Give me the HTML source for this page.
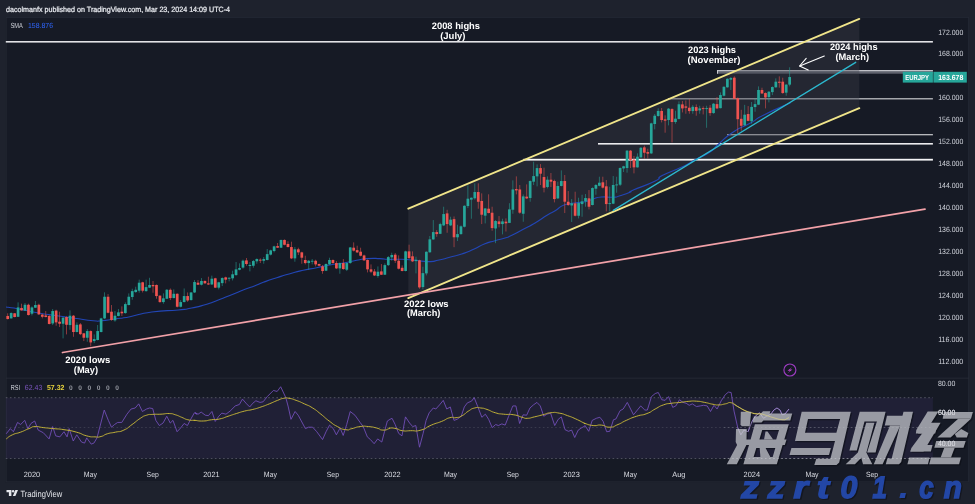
<!DOCTYPE html>
<html><head><meta charset="utf-8"><title>EUR/JPY chart</title>
<style>html,body{margin:0;padding:0;background:#1e222d}body{width:975px;height:504px;overflow:hidden}svg{display:block;text-rendering:geometricPrecision;will-change:transform;transform:translateZ(0)}text{font-family:"Liberation Sans",sans-serif}</style></head><body>
<svg width="975" height="504" viewBox="0 0 975 504">
<rect width="975" height="504" fill="#1e222d"/>
<rect x="5.8" y="17" width="963.2" height="465.2" fill="#161a25"/>
<rect x="6.2" y="17.4" width="962.4" height="464.4" fill="none" stroke="#2a2e39" stroke-width="0.8" opacity="0.75"/>
<rect x="5.8" y="377.7" width="963.2" height="0.9" fill="#2a2e39" opacity="0.8"/>
<text x="6" y="11.6" font-size="7.6" fill="#eceef3" stroke="#eceef3" stroke-width="0.22" textLength="224" lengthAdjust="spacingAndGlyphs">dacolmanfx published on TradingView.com, Mar 23, 2024 14:09 UTC-4</text>
<rect x="668" y="98.2" width="264.9" height="1.2" fill="#c9cace"/>
<rect x="727" y="134.1" width="205.9" height="1.2" fill="#c9cace"/>
<rect x="717" y="70.1" width="215.9" height="3.6" fill="#60636e"/>
<rect x="717" y="70.1" width="215.9" height="1.1" fill="#cccdd2"/>
<rect x="717" y="70.1" width="1" height="3.6" fill="#cccdd2"/>
<polygon points="408.3,208.7 859.3,18.9 859.3,108.1 408.3,298.1" fill="#3c3f4a" fill-opacity="0.36"/>
<rect x="5.8" y="41" width="927.1" height="1.6" fill="#e2e2e6"/>
<rect x="598" y="143" width="334.9" height="1.6" fill="#ececef"/>
<rect x="523.3" y="158.8" width="409.6" height="1.8" fill="#f4f4f6"/>
<path d="M6 307 C9.77 307.57 6.4 306.7 17.3 308.7 C28.2 310.7 24.9 310.57 38.7 313 C52.5 315.43 46.7 314.23 58.7 316 C70.7 317.77 63.17 316.73 74.7 318.3 C86.23 319.87 84.43 319.9 93.3 320.7 C102.17 321.5 94.17 321.27 101.3 320.7 C108.43 320.13 105.13 320.33 114.7 319 C124.27 317.67 117.67 319.03 130 316.7 C142.33 314.37 135.6 314.23 151.7 312 C167.8 309.77 164.97 311.33 178.3 310 C191.63 308.67 182.8 309.77 191.7 308 C200.6 306.23 196.13 307.37 205 304.7 C213.87 302.03 209.4 303.33 218.3 300 C227.2 296.67 222.8 298.27 231.7 294.7 C240.6 291.13 237.23 292.3 245 289.3 C252.77 286.3 248.9 288.03 255 285.7 C261.1 283.37 256.07 284.97 263.3 282.3 C270.53 279.63 267.8 280.57 276.7 277.7 C285.6 274.83 281.13 276.17 290 273.7 C298.87 271.23 294.4 272.3 303.3 270.3 C312.2 268.3 307.8 269.47 316.7 267.7 C325.6 265.93 321.13 266.57 330 265 C338.87 263.43 334.4 264.57 343.3 263 C352.2 261.43 348.7 261.77 356.7 260.3 C364.7 258.83 359.53 259.17 367.3 258.6 C375.07 258.03 373 258.37 380 258.6 C387 258.83 381.07 259.07 388.3 259.3 C395.53 259.53 392.8 258.97 401.7 259.3 C410.6 259.63 406.13 259.53 415 260.3 C423.87 261.07 420.3 261.7 428.3 261.6 C436.3 261.5 431.87 261.43 439 260 C446.13 258.57 442.13 259.3 449.7 257.3 C457.27 255.3 453.7 256.67 461.7 254 C469.7 251.33 466.17 252.63 473.7 249.3 C481.23 245.97 477.2 246.87 484.3 244 C491.4 241.13 488.1 242.7 495 240.7 C501.9 238.7 499.57 239.7 505 238 C510.43 236.3 505.37 238.43 511.3 235.6 C517.23 232.77 514.87 233.73 522.8 229.5 C530.73 225.27 526.9 227.7 535.1 222.9 C543.3 218.1 540.57 219.2 547.4 215.1 C554.23 211 550.07 213.97 555.6 210.6 C561.13 207.23 557.63 207.53 564 205 C570.37 202.47 567.6 204.1 574.7 203 C581.8 201.9 579.1 203.03 585.3 201.7 C591.5 200.37 587.97 200.57 593.3 199 C598.63 197.43 594.63 197.6 601.3 197 C607.97 196.4 607.07 197.63 613.3 197.2 C619.53 196.77 614.43 197.33 620 195.7 C625.57 194.07 625.57 194.2 630 192.3 C634.43 190.4 625.07 193.67 633.3 190 C641.53 186.33 644.9 186.2 654.7 181.3 C664.5 176.4 653.83 179.97 662.7 175.3 C671.57 170.63 670.2 172.63 681.3 167.3 C692.4 161.97 686.43 164.4 696 159.3 C705.57 154.2 702.43 157.1 710 152 C717.57 146.9 710.93 150.67 718.7 144 C726.47 137.33 722.87 138.9 733.3 132 C743.73 125.1 739.63 129.07 750 123.3 C760.37 117.53 750.87 121.53 764.4 114.7 C777.93 107.87 781.87 106.77 790.6 102.8" fill="none" stroke="#2246b6" stroke-width="1.15" stroke-linejoin="round"/>
<g fill="#26a69a"><rect x="10.71" y="312.37" width="0.9" height="6.28" opacity="0.6"/><rect x="9.81" y="313.04" width="2.7" height="5.34"/><rect x="17.63" y="302.36" width="0.9" height="14.69" opacity="0.6"/><rect x="16.73" y="307.43" width="2.7" height="9.35"/><rect x="24.55" y="303.02" width="0.9" height="8.01" opacity="0.6"/><rect x="23.65" y="304.76" width="2.7" height="5.87"/><rect x="31.47" y="306.36" width="0.9" height="9.08" opacity="0.6"/><rect x="30.57" y="307.43" width="2.7" height="6.28"/><rect x="34.93" y="301.02" width="0.9" height="6.94" opacity="0.6"/><rect x="34.03" y="305.03" width="2.7" height="2.67"/><rect x="52.23" y="309.03" width="0.9" height="16.02" opacity="0.6"/><rect x="51.33" y="311.03" width="2.7" height="12.42"/><rect x="62.61" y="317.04" width="0.9" height="21.36" opacity="0.6"/><rect x="61.71" y="317.71" width="2.7" height="6.01"/><rect x="69.53" y="310.37" width="0.9" height="19.36" opacity="0.6"/><rect x="68.63" y="315.71" width="2.7" height="9.35"/><rect x="76.45" y="322.38" width="0.9" height="10.01" opacity="0.6"/><rect x="75.55" y="324.79" width="2.7" height="7.21"/><rect x="86.83" y="329.06" width="0.9" height="12.68" opacity="0.6"/><rect x="85.93" y="331.06" width="2.7" height="6.68"/><rect x="93.75" y="334.4" width="0.9" height="8.68" opacity="0.6"/><rect x="92.85" y="339.07" width="2.7" height="2"/><rect x="97.21" y="325.05" width="0.9" height="15.35" opacity="0.6"/><rect x="96.31" y="331.06" width="2.7" height="8.95"/><rect x="100.67" y="317.71" width="0.9" height="14.69" opacity="0.6"/><rect x="99.77" y="318.38" width="2.7" height="13.62"/><rect x="104.13" y="292.34" width="0.9" height="26.7" opacity="0.6"/><rect x="103.23" y="296.75" width="2.7" height="21.63"/><rect x="114.51" y="311.03" width="0.9" height="10.68" opacity="0.6"/><rect x="113.61" y="315.71" width="2.7" height="4.67"/><rect x="117.97" y="309.03" width="0.9" height="7.34" opacity="0.6"/><rect x="117.07" y="312.37" width="2.7" height="3.6"/><rect x="124.89" y="302.36" width="0.9" height="11.35" opacity="0.6"/><rect x="123.99" y="304.09" width="2.7" height="8.95"/><rect x="128.35" y="293.39" width="0.9" height="12.02" opacity="0.6"/><rect x="127.45" y="296.73" width="2.7" height="8.28"/><rect x="131.81" y="288.72" width="0.9" height="10.95" opacity="0.6"/><rect x="130.91" y="291.12" width="2.7" height="5.87"/><rect x="135.27" y="286.72" width="0.9" height="6.01" opacity="0.6"/><rect x="134.37" y="289.79" width="2.7" height="2.27"/><rect x="138.73" y="279.64" width="0.9" height="13.08" opacity="0.6"/><rect x="137.83" y="282.71" width="2.7" height="8.01"/><rect x="145.65" y="279.64" width="0.9" height="12.02" opacity="0.6"/><rect x="144.75" y="287.12" width="2.7" height="4.01"/><rect x="149.11" y="277.77" width="0.9" height="10.28" opacity="0.6"/><rect x="148.21" y="284.98" width="2.7" height="2.67"/><rect x="162.95" y="293.39" width="0.9" height="10.28" opacity="0.6"/><rect x="162.05" y="298.33" width="2.7" height="3.74"/><rect x="166.41" y="288.99" width="0.9" height="10.15" opacity="0.6"/><rect x="165.51" y="289.79" width="2.7" height="8.95"/><rect x="173.33" y="289.39" width="0.9" height="8.95" opacity="0.6"/><rect x="172.43" y="293.79" width="2.7" height="4.27"/><rect x="180.25" y="300.07" width="0.9" height="7.34" opacity="0.6"/><rect x="179.35" y="302.07" width="2.7" height="4.67"/><rect x="183.71" y="288.45" width="0.9" height="13.89" opacity="0.6"/><rect x="182.81" y="296.06" width="2.7" height="6.01"/><rect x="190.63" y="292.06" width="0.9" height="8.41" opacity="0.6"/><rect x="189.73" y="292.46" width="2.7" height="7.61"/><rect x="194.09" y="280.04" width="0.9" height="12.95" opacity="0.6"/><rect x="193.19" y="282.04" width="2.7" height="10.41"/><rect x="201.01" y="278.04" width="0.9" height="7.34" opacity="0.6"/><rect x="200.11" y="280.97" width="2.7" height="3.74"/><rect x="211.39" y="275.63" width="0.9" height="9.35" opacity="0.6"/><rect x="210.49" y="278.7" width="2.7" height="5.74"/><rect x="218.31" y="281.78" width="0.9" height="7.61" opacity="0.6"/><rect x="217.41" y="282.31" width="2.7" height="5.34"/><rect x="221.77" y="277.37" width="0.9" height="8.68" opacity="0.6"/><rect x="220.87" y="278.04" width="2.7" height="5.07"/><rect x="228.69" y="277.37" width="0.9" height="4.01" opacity="0.6"/><rect x="227.79" y="277.77" width="2.7" height="0.93"/><rect x="232.15" y="270.69" width="0.9" height="9.75" opacity="0.6"/><rect x="231.25" y="274.3" width="2.7" height="4.01"/><rect x="235.61" y="262.02" width="0.9" height="13.62" opacity="0.6"/><rect x="234.71" y="269.36" width="2.7" height="5.74"/><rect x="239.07" y="263.35" width="0.9" height="6.94" opacity="0.6"/><rect x="238.17" y="268.02" width="2.7" height="1.74"/><rect x="242.53" y="259.61" width="0.9" height="9.08" opacity="0.6"/><rect x="241.63" y="260.68" width="2.7" height="6.94"/><rect x="249.45" y="262.02" width="0.9" height="9.35" opacity="0.6"/><rect x="248.55" y="264.95" width="2.7" height="1.07"/><rect x="252.91" y="259.98" width="0.9" height="7.74" opacity="0.6"/><rect x="252.01" y="261.05" width="2.7" height="4.67"/><rect x="256.37" y="258.38" width="0.9" height="5.34" opacity="0.6"/><rect x="255.47" y="259.05" width="2.7" height="2.27"/><rect x="263.29" y="257.04" width="0.9" height="6.68" opacity="0.6"/><rect x="262.39" y="259.05" width="2.7" height="1.74"/><rect x="266.75" y="249.03" width="0.9" height="11.35" opacity="0.6"/><rect x="265.85" y="254.11" width="2.7" height="5.87"/><rect x="270.21" y="249.7" width="0.9" height="5.74" opacity="0.6"/><rect x="269.31" y="250.37" width="2.7" height="4.27"/><rect x="273.67" y="245.69" width="0.9" height="6.68" opacity="0.6"/><rect x="272.77" y="246.36" width="2.7" height="4.67"/><rect x="280.59" y="239.69" width="0.9" height="8.28" opacity="0.6"/><rect x="279.69" y="239.95" width="2.7" height="7.74"/><rect x="294.43" y="247.03" width="0.9" height="14.69" opacity="0.6"/><rect x="293.53" y="249.3" width="2.7" height="9.08"/><rect x="308.27" y="259.98" width="0.9" height="9.75" opacity="0.6"/><rect x="307.37" y="260.78" width="2.7" height="2.27"/><rect x="311.73" y="259.05" width="0.9" height="5.34" opacity="0.6"/><rect x="310.83" y="260.78" width="2.7" height="0.9"/><rect x="325.57" y="263.45" width="0.9" height="7.61" opacity="0.6"/><rect x="324.67" y="263.99" width="2.7" height="6.68"/><rect x="329.03" y="257.71" width="0.9" height="7.08" opacity="0.6"/><rect x="328.13" y="259.98" width="2.7" height="4.41"/><rect x="339.41" y="262.38" width="0.9" height="11.35" opacity="0.6"/><rect x="338.51" y="263.05" width="2.7" height="5.34"/><rect x="346.33" y="262.38" width="0.9" height="8.68" opacity="0.6"/><rect x="345.43" y="263.05" width="2.7" height="6.68"/><rect x="349.79" y="247.03" width="0.9" height="16.69" opacity="0.6"/><rect x="348.89" y="247.43" width="2.7" height="15.62"/><rect x="377.47" y="266.39" width="0.9" height="11.35" opacity="0.6"/><rect x="376.57" y="271.73" width="2.7" height="4.27"/><rect x="384.39" y="263.38" width="0.9" height="11.62" opacity="0.6"/><rect x="383.49" y="265.11" width="2.7" height="9.61"/><rect x="387.85" y="256.03" width="0.9" height="10.01" opacity="0.6"/><rect x="386.95" y="257.1" width="2.7" height="8.01"/><rect x="391.31" y="252.69" width="0.9" height="8.01" opacity="0.6"/><rect x="390.41" y="254.96" width="2.7" height="2.4"/><rect x="405.15" y="250.69" width="0.9" height="20.69" opacity="0.6"/><rect x="404.25" y="251.36" width="2.7" height="19.63"/><rect x="415.53" y="256.7" width="0.9" height="16.69" opacity="0.6"/><rect x="414.63" y="259.77" width="2.7" height="1.34"/><rect x="422.45" y="266.71" width="0.9" height="22.7" opacity="0.6"/><rect x="421.55" y="273.12" width="2.7" height="13.89"/><rect x="425.91" y="251.36" width="0.9" height="24.03" opacity="0.6"/><rect x="425.01" y="251.76" width="2.7" height="21.63"/><rect x="429.37" y="236.01" width="0.9" height="16.69" opacity="0.6"/><rect x="428.47" y="239.34" width="2.7" height="12.95"/><rect x="432.83" y="220.07" width="0.9" height="19.63" opacity="0.6"/><rect x="431.93" y="232.08" width="2.7" height="7.34"/><rect x="439.75" y="222.74" width="0.9" height="11.35" opacity="0.6"/><rect x="438.85" y="224.07" width="2.7" height="9.75"/><rect x="443.21" y="206.72" width="0.9" height="19.36" opacity="0.6"/><rect x="442.31" y="214.06" width="2.7" height="11.35"/><rect x="450.13" y="216.73" width="0.9" height="9.35" opacity="0.6"/><rect x="449.23" y="219.67" width="2.7" height="5.74"/><rect x="457.05" y="224.74" width="0.9" height="16.29" opacity="0.6"/><rect x="456.15" y="234.09" width="2.7" height="3.2"/><rect x="460.51" y="225.41" width="0.9" height="9.35" opacity="0.6"/><rect x="459.61" y="226.34" width="2.7" height="7.74"/><rect x="463.97" y="205.38" width="0.9" height="22.03" opacity="0.6"/><rect x="463.07" y="205.78" width="2.7" height="20.96"/><rect x="467.43" y="185.35" width="0.9" height="22.7" opacity="0.6"/><rect x="466.53" y="198.7" width="2.7" height="7.34"/><rect x="470.89" y="197.37" width="0.9" height="21.36" opacity="0.6"/><rect x="469.99" y="197.77" width="2.7" height="1.87"/><rect x="474.35" y="183.35" width="0.9" height="16.29" opacity="0.6"/><rect x="473.45" y="192.03" width="2.7" height="6.28"/><rect x="484.73" y="208.05" width="0.9" height="15.35" opacity="0.6"/><rect x="483.83" y="208.45" width="2.7" height="7.21"/><rect x="495.11" y="220.07" width="0.9" height="23.1" opacity="0.6"/><rect x="494.21" y="221" width="2.7" height="7.48"/><rect x="502.03" y="218.73" width="0.9" height="15.62" opacity="0.6"/><rect x="501.13" y="221.4" width="2.7" height="2.67"/><rect x="508.95" y="203.2" width="0.9" height="19.85" opacity="0.6"/><rect x="508.05" y="209.36" width="2.7" height="13.54"/><rect x="512.41" y="180.37" width="0.9" height="33.38" opacity="0.6"/><rect x="511.51" y="189.45" width="2.7" height="20.29"/><rect x="522.79" y="194.39" width="0.9" height="27.37" opacity="0.6"/><rect x="521.89" y="196.39" width="2.7" height="17.36"/><rect x="529.71" y="180.37" width="0.9" height="21.36" opacity="0.6"/><rect x="528.81" y="181.03" width="2.7" height="16.96"/><rect x="533.17" y="161.68" width="0.9" height="23.36" opacity="0.6"/><rect x="532.27" y="176.09" width="2.7" height="5.61"/><rect x="536.63" y="164.35" width="0.9" height="22.03" opacity="0.6"/><rect x="535.73" y="168.08" width="2.7" height="8.28"/><rect x="547.01" y="176.36" width="0.9" height="12.02" opacity="0.6"/><rect x="546.11" y="179.7" width="2.7" height="7.34"/><rect x="557.39" y="181.7" width="0.9" height="17.36" opacity="0.6"/><rect x="556.49" y="185.97" width="2.7" height="12.42"/><rect x="560.85" y="170.35" width="0.9" height="16.02" opacity="0.6"/><rect x="559.95" y="181.03" width="2.7" height="4.94"/><rect x="571.23" y="199.06" width="0.9" height="22.96" opacity="0.6"/><rect x="570.33" y="203.33" width="2.7" height="2.14"/><rect x="578.15" y="197.72" width="0.9" height="20.69" opacity="0.6"/><rect x="577.25" y="203.06" width="2.7" height="12.68"/><rect x="581.61" y="194.73" width="0.9" height="22.03" opacity="0.6"/><rect x="580.71" y="201.4" width="2.7" height="2.67"/><rect x="585.07" y="194.06" width="0.9" height="12.68" opacity="0.6"/><rect x="584.17" y="198.06" width="2.7" height="3.34"/><rect x="591.99" y="187.38" width="0.9" height="18.02" opacity="0.6"/><rect x="591.09" y="188.05" width="2.7" height="16.96"/><rect x="595.45" y="184.05" width="0.9" height="10.68" opacity="0.6"/><rect x="594.55" y="184.98" width="2.7" height="3.74"/><rect x="598.91" y="176.7" width="0.9" height="9.61" opacity="0.6"/><rect x="598.01" y="182.71" width="2.7" height="3.07"/><rect x="609.29" y="186.72" width="0.9" height="24.7" opacity="0.6"/><rect x="608.39" y="203.14" width="2.7" height="0.93"/><rect x="612.75" y="176.03" width="0.9" height="28.04" opacity="0.6"/><rect x="611.85" y="184.98" width="2.7" height="18.69"/><rect x="616.21" y="176.7" width="0.9" height="16.02" opacity="0.6"/><rect x="615.31" y="184.45" width="2.7" height="0.93"/><rect x="619.67" y="167.36" width="0.9" height="18.69" opacity="0.6"/><rect x="618.77" y="168.02" width="2.7" height="16.69"/><rect x="623.13" y="165.75" width="0.9" height="6.28" opacity="0.6"/><rect x="622.23" y="166.29" width="2.7" height="2.14"/><rect x="626.59" y="150" width="0.9" height="22.7" opacity="0.6"/><rect x="625.69" y="150.67" width="2.7" height="17.36"/><rect x="636.97" y="153.34" width="0.9" height="14.29" opacity="0.6"/><rect x="636.07" y="156.68" width="2.7" height="10.68"/><rect x="640.43" y="147" width="0.9" height="10.68" opacity="0.6"/><rect x="639.53" y="147.8" width="2.7" height="9.61"/><rect x="650.81" y="122.7" width="0.9" height="31.38" opacity="0.6"/><rect x="649.91" y="123.36" width="2.7" height="30.04"/><rect x="654.27" y="114.02" width="0.9" height="15.35" opacity="0.6"/><rect x="653.37" y="115.75" width="2.7" height="8.28"/><rect x="657.73" y="108.28" width="0.9" height="8.41" opacity="0.6"/><rect x="656.83" y="110.95" width="2.7" height="5.07"/><rect x="668.11" y="108.01" width="0.9" height="17.36" opacity="0.6"/><rect x="667.21" y="108.68" width="2.7" height="11.35"/><rect x="675.03" y="110.68" width="0.9" height="13.08" opacity="0.6"/><rect x="674.13" y="118.69" width="2.7" height="3.34"/><rect x="678.49" y="101.34" width="0.9" height="18.02" opacity="0.6"/><rect x="677.59" y="104.27" width="2.7" height="14.69"/><rect x="692.33" y="105.07" width="0.9" height="8.68" opacity="0.6"/><rect x="691.43" y="106.8" width="2.7" height="4.27"/><rect x="699.25" y="105.73" width="0.9" height="8.01" opacity="0.6"/><rect x="698.35" y="108.4" width="2.7" height="2"/><rect x="706.17" y="105.73" width="0.9" height="22.03" opacity="0.6"/><rect x="705.27" y="108.14" width="2.7" height="0.93"/><rect x="713.09" y="103.06" width="0.9" height="10.68" opacity="0.6"/><rect x="712.19" y="103.73" width="2.7" height="9.35"/><rect x="720.01" y="92.38" width="0.9" height="16.02" opacity="0.6"/><rect x="719.11" y="95.05" width="2.7" height="13.08"/><rect x="723.47" y="86.38" width="0.9" height="10.01" opacity="0.6"/><rect x="722.57" y="86.78" width="2.7" height="8.95"/><rect x="726.93" y="78.36" width="0.9" height="9.35" opacity="0.6"/><rect x="726.03" y="78.77" width="2.7" height="8.54"/><rect x="730.39" y="77.03" width="0.9" height="12.95" opacity="0.6"/><rect x="729.49" y="77.96" width="2.7" height="1.74"/><rect x="744.23" y="104.84" width="0.9" height="20.92" opacity="0.6"/><rect x="743.33" y="114.69" width="2.7" height="10.66"/><rect x="751.15" y="101.97" width="0.9" height="21.74" opacity="0.6"/><rect x="750.25" y="106.89" width="2.7" height="14.36"/><rect x="754.61" y="98.39" width="0.9" height="13.35" opacity="0.6"/><rect x="753.71" y="104.13" width="2.7" height="2.94"/><rect x="758.07" y="86.38" width="0.9" height="18.69" opacity="0.6"/><rect x="757.17" y="89.98" width="2.7" height="14.69"/><rect x="768.45" y="91.05" width="0.9" height="11.35" opacity="0.6"/><rect x="767.55" y="91.72" width="2.7" height="5.34"/><rect x="771.91" y="86.38" width="0.9" height="8.68" opacity="0.6"/><rect x="771.01" y="87.04" width="2.7" height="5.07"/><rect x="775.37" y="78.36" width="0.9" height="9.35" opacity="0.6"/><rect x="774.47" y="81.7" width="2.7" height="5.61"/><rect x="785.75" y="84.11" width="0.9" height="11.62" opacity="0.6"/><rect x="784.85" y="84.64" width="2.7" height="8.01"/><rect x="789.21" y="67.28" width="0.9" height="19.09" opacity="0.6"/><rect x="788.31" y="77.03" width="2.7" height="7.61"/></g>
<g fill="#ef5350"><rect x="7.25" y="313.3" width="0.9" height="6.14" opacity="0.6"/><rect x="6.35" y="315.97" width="2.7" height="3.07"/><rect x="14.17" y="313.04" width="0.9" height="4.27" opacity="0.6"/><rect x="13.27" y="313.3" width="2.7" height="3.74"/><rect x="21.09" y="303.69" width="0.9" height="6.94" opacity="0.6"/><rect x="20.19" y="307.96" width="2.7" height="2.4"/><rect x="28.01" y="303.69" width="0.9" height="11.75" opacity="0.6"/><rect x="27.11" y="304.76" width="2.7" height="10.28"/><rect x="38.39" y="303.69" width="0.9" height="11.35" opacity="0.6"/><rect x="37.49" y="304.76" width="2.7" height="9.61"/><rect x="41.85" y="313.7" width="0.9" height="4.67" opacity="0.6"/><rect x="40.95" y="314.64" width="2.7" height="2.14"/><rect x="45.31" y="311.03" width="0.9" height="6.28" opacity="0.6"/><rect x="44.41" y="315.44" width="2.7" height="1.6"/><rect x="48.77" y="315.04" width="0.9" height="9.35" opacity="0.6"/><rect x="47.87" y="315.97" width="2.7" height="8.01"/><rect x="55.69" y="309.7" width="0.9" height="16.02" opacity="0.6"/><rect x="54.79" y="310.63" width="2.7" height="11.75"/><rect x="59.15" y="311.7" width="0.9" height="15.35" opacity="0.6"/><rect x="58.25" y="321.72" width="2.7" height="2"/><rect x="66.07" y="316.38" width="0.9" height="18.02" opacity="0.6"/><rect x="65.17" y="317.04" width="2.7" height="7.74"/><rect x="72.99" y="315.04" width="0.9" height="21.76" opacity="0.6"/><rect x="72.09" y="315.71" width="2.7" height="16.29"/><rect x="79.91" y="323.05" width="0.9" height="12.02" opacity="0.6"/><rect x="79.01" y="324.39" width="2.7" height="9.75"/><rect x="83.37" y="333.06" width="0.9" height="8.01" opacity="0.6"/><rect x="82.47" y="333.33" width="2.7" height="4.41"/><rect x="90.29" y="330.39" width="0.9" height="16.02" opacity="0.6"/><rect x="89.39" y="331.06" width="2.7" height="11.35"/><rect x="107.59" y="294.08" width="0.9" height="19.23" opacity="0.6"/><rect x="106.69" y="296.75" width="2.7" height="16.02"/><rect x="111.05" y="305.03" width="0.9" height="15.75" opacity="0.6"/><rect x="110.15" y="311.7" width="2.7" height="8.28"/><rect x="121.43" y="306.36" width="0.9" height="9.61" opacity="0.6"/><rect x="120.53" y="311.7" width="2.7" height="1.6"/><rect x="142.19" y="281.78" width="0.9" height="10.68" opacity="0.6"/><rect x="141.29" y="282.31" width="2.7" height="8.41"/><rect x="152.57" y="280.97" width="0.9" height="11.75" opacity="0.6"/><rect x="151.67" y="284.98" width="2.7" height="1.34"/><rect x="156.03" y="284.45" width="0.9" height="14.29" opacity="0.6"/><rect x="155.13" y="284.98" width="2.7" height="11.08"/><rect x="159.49" y="295.39" width="0.9" height="7.34" opacity="0.6"/><rect x="158.59" y="295.66" width="2.7" height="6.41"/><rect x="169.87" y="288.45" width="0.9" height="11.62" opacity="0.6"/><rect x="168.97" y="289.79" width="2.7" height="8.28"/><rect x="176.79" y="293.39" width="0.9" height="14.02" opacity="0.6"/><rect x="175.89" y="293.79" width="2.7" height="12.95"/><rect x="187.17" y="292.46" width="0.9" height="9.35" opacity="0.6"/><rect x="186.27" y="296.06" width="2.7" height="4.41"/><rect x="197.55" y="280.04" width="0.9" height="4.94" opacity="0.6"/><rect x="196.65" y="282.71" width="2.7" height="2"/><rect x="204.47" y="280.44" width="0.9" height="3.2" opacity="0.6"/><rect x="203.57" y="280.97" width="2.7" height="2.4"/><rect x="207.93" y="276.7" width="0.9" height="8.28" opacity="0.6"/><rect x="207.03" y="283.38" width="2.7" height="1.07"/><rect x="214.85" y="277.77" width="0.9" height="10.28" opacity="0.6"/><rect x="213.95" y="278.3" width="2.7" height="9.35"/><rect x="225.23" y="276.7" width="0.9" height="6.68" opacity="0.6"/><rect x="224.33" y="277.37" width="2.7" height="2.27"/><rect x="245.99" y="258.01" width="0.9" height="7.74" opacity="0.6"/><rect x="245.09" y="260.41" width="2.7" height="3.6"/><rect x="259.83" y="258.38" width="0.9" height="4.67" opacity="0.6"/><rect x="258.93" y="259.71" width="2.7" height="0.9"/><rect x="277.13" y="243.02" width="0.9" height="4.94" opacity="0.6"/><rect x="276.23" y="246.09" width="2.7" height="1.6"/><rect x="284.05" y="239.42" width="0.9" height="5.87" opacity="0.6"/><rect x="283.15" y="239.95" width="2.7" height="4.81"/><rect x="287.51" y="241.29" width="0.9" height="6.14" opacity="0.6"/><rect x="286.61" y="243.96" width="2.7" height="3.07"/><rect x="290.97" y="241.69" width="0.9" height="17.36" opacity="0.6"/><rect x="290.07" y="247.03" width="2.7" height="11.35"/><rect x="297.89" y="247.7" width="0.9" height="7.34" opacity="0.6"/><rect x="296.99" y="249.3" width="2.7" height="3.07"/><rect x="301.35" y="251.7" width="0.9" height="12.02" opacity="0.6"/><rect x="300.45" y="252.37" width="2.7" height="5.34"/><rect x="304.81" y="255.71" width="0.9" height="8.68" opacity="0.6"/><rect x="303.91" y="259.98" width="2.7" height="3.07"/><rect x="315.19" y="259.71" width="0.9" height="6.68" opacity="0.6"/><rect x="314.29" y="260.78" width="2.7" height="3.6"/><rect x="318.65" y="263.72" width="0.9" height="2.4" opacity="0.6"/><rect x="317.75" y="263.99" width="2.7" height="1.74"/><rect x="322.11" y="265.05" width="0.9" height="8.68" opacity="0.6"/><rect x="321.21" y="266.39" width="2.7" height="4.67"/><rect x="332.49" y="259.45" width="0.9" height="4.27" opacity="0.6"/><rect x="331.59" y="259.98" width="2.7" height="3.07"/><rect x="335.95" y="261.05" width="0.9" height="8.01" opacity="0.6"/><rect x="335.05" y="263.05" width="2.7" height="5.34"/><rect x="342.87" y="259.05" width="0.9" height="10.68" opacity="0.6"/><rect x="341.97" y="263.05" width="2.7" height="6.01"/><rect x="353.25" y="242.36" width="0.9" height="9.08" opacity="0.6"/><rect x="352.35" y="247.7" width="2.7" height="2.94"/><rect x="356.71" y="245.69" width="0.9" height="7.34" opacity="0.6"/><rect x="355.81" y="250.1" width="2.7" height="2.27"/><rect x="360.17" y="247.7" width="0.9" height="8.68" opacity="0.6"/><rect x="359.27" y="251.7" width="2.7" height="4.01"/><rect x="363.63" y="254.64" width="0.9" height="6.14" opacity="0.6"/><rect x="362.73" y="255.44" width="2.7" height="4.94"/><rect x="367.09" y="259.45" width="0.9" height="12.95" opacity="0.6"/><rect x="366.19" y="259.98" width="2.7" height="9.35"/><rect x="370.55" y="264.39" width="0.9" height="8.68" opacity="0.6"/><rect x="369.65" y="269.33" width="2.7" height="2.4"/><rect x="374.01" y="269.06" width="0.9" height="6.94" opacity="0.6"/><rect x="373.11" y="271.46" width="2.7" height="4.01"/><rect x="380.93" y="264.04" width="0.9" height="10.95" opacity="0.6"/><rect x="380.03" y="271.39" width="2.7" height="3.34"/><rect x="394.77" y="253.09" width="0.9" height="9.88" opacity="0.6"/><rect x="393.87" y="254.7" width="2.7" height="6.01"/><rect x="398.23" y="255.36" width="0.9" height="14.02" opacity="0.6"/><rect x="397.33" y="260.7" width="2.7" height="8.01"/><rect x="401.69" y="265.38" width="0.9" height="6.01" opacity="0.6"/><rect x="400.79" y="267.78" width="2.7" height="3.2"/><rect x="408.61" y="244.68" width="0.9" height="14.02" opacity="0.6"/><rect x="407.71" y="251.36" width="2.7" height="6.68"/><rect x="412.07" y="251.36" width="0.9" height="10.68" opacity="0.6"/><rect x="411.17" y="256.3" width="2.7" height="5.07"/><rect x="418.99" y="259.77" width="0.9" height="28.97" opacity="0.6"/><rect x="418.09" y="260.3" width="2.7" height="27.1"/><rect x="436.29" y="230.08" width="0.9" height="6.68" opacity="0.6"/><rect x="435.39" y="232.08" width="2.7" height="2"/><rect x="446.67" y="209.79" width="0.9" height="22.96" opacity="0.6"/><rect x="445.77" y="213.39" width="2.7" height="10.68"/><rect x="453.59" y="216.46" width="0.9" height="30.71" opacity="0.6"/><rect x="452.69" y="219.13" width="2.7" height="18.16"/><rect x="477.81" y="183.35" width="0.9" height="25.37" opacity="0.6"/><rect x="476.91" y="192.03" width="2.7" height="9.75"/><rect x="481.27" y="193.36" width="0.9" height="30.71" opacity="0.6"/><rect x="480.37" y="200.97" width="2.7" height="13.75"/><rect x="488.19" y="194.3" width="0.9" height="19.09" opacity="0.6"/><rect x="487.29" y="208.72" width="2.7" height="4.27"/><rect x="491.65" y="206.72" width="0.9" height="24.03" opacity="0.6"/><rect x="490.75" y="212.72" width="2.7" height="15.35"/><rect x="498.57" y="216.06" width="0.9" height="11.35" opacity="0.6"/><rect x="497.67" y="221.4" width="2.7" height="2.67"/><rect x="505.49" y="218.38" width="0.9" height="13.13" opacity="0.6"/><rect x="504.59" y="221.66" width="2.7" height="1.64"/><rect x="515.87" y="176.36" width="0.9" height="18.02" opacity="0.6"/><rect x="514.97" y="189.05" width="2.7" height="1.34"/><rect x="519.33" y="185.04" width="0.9" height="28.7" opacity="0.6"/><rect x="518.43" y="189.45" width="2.7" height="23.23"/><rect x="526.25" y="184.37" width="0.9" height="14.69" opacity="0.6"/><rect x="525.35" y="196.66" width="2.7" height="1.74"/><rect x="540.09" y="164.08" width="0.9" height="20.96" opacity="0.6"/><rect x="539.19" y="168.08" width="2.7" height="5.61"/><rect x="543.55" y="167.68" width="0.9" height="24.7" opacity="0.6"/><rect x="542.65" y="177.03" width="2.7" height="10.68"/><rect x="550.47" y="173.02" width="0.9" height="14.02" opacity="0.6"/><rect x="549.57" y="179.7" width="2.7" height="2"/><rect x="553.93" y="179.7" width="0.9" height="22.7" opacity="0.6"/><rect x="553.03" y="181.03" width="2.7" height="18.02"/><rect x="564.31" y="175.03" width="0.9" height="38.05" opacity="0.6"/><rect x="563.41" y="181.03" width="2.7" height="20.69"/><rect x="567.77" y="191.05" width="0.9" height="14.69" opacity="0.6"/><rect x="566.87" y="201.73" width="2.7" height="3.34"/><rect x="574.69" y="191.72" width="0.9" height="24.7" opacity="0.6"/><rect x="573.79" y="203.33" width="2.7" height="12.42"/><rect x="588.53" y="190.05" width="0.9" height="19.36" opacity="0.6"/><rect x="587.63" y="198.33" width="2.7" height="8.41"/><rect x="602.37" y="176.7" width="0.9" height="11.75" opacity="0.6"/><rect x="601.47" y="182.31" width="2.7" height="5.34"/><rect x="605.83" y="180.04" width="0.9" height="31.38" opacity="0.6"/><rect x="604.93" y="186.32" width="2.7" height="17.76"/><rect x="630.05" y="150" width="0.9" height="18.02" opacity="0.6"/><rect x="629.15" y="150.67" width="2.7" height="9.35"/><rect x="633.51" y="156.01" width="0.9" height="17.36" opacity="0.6"/><rect x="632.61" y="159.61" width="2.7" height="7.74"/><rect x="643.89" y="145.66" width="0.9" height="13.08" opacity="0.6"/><rect x="642.99" y="147.4" width="2.7" height="5.34"/><rect x="647.35" y="148.73" width="0.9" height="9.75" opacity="0.6"/><rect x="646.45" y="152.07" width="2.7" height="1.6"/><rect x="661.19" y="108.01" width="0.9" height="14.42" opacity="0.6"/><rect x="660.29" y="110.95" width="2.7" height="9.08"/><rect x="664.65" y="115.35" width="0.9" height="17.36" opacity="0.6"/><rect x="663.75" y="119.36" width="2.7" height="1.34"/><rect x="671.57" y="108.28" width="0.9" height="34.18" opacity="0.6"/><rect x="670.67" y="109.08" width="2.7" height="12.95"/><rect x="681.95" y="101.06" width="0.9" height="11.35" opacity="0.6"/><rect x="681.05" y="104.4" width="2.7" height="4.01"/><rect x="685.41" y="100.39" width="0.9" height="13.35" opacity="0.6"/><rect x="684.51" y="106.4" width="2.7" height="1.34"/><rect x="688.87" y="99.06" width="0.9" height="14.69" opacity="0.6"/><rect x="687.97" y="107.74" width="2.7" height="3.34"/><rect x="695.79" y="104.4" width="0.9" height="11.35" opacity="0.6"/><rect x="694.89" y="107.07" width="2.7" height="3.74"/><rect x="702.71" y="106.4" width="0.9" height="8.01" opacity="0.6"/><rect x="701.81" y="108.14" width="2.7" height="0.93"/><rect x="709.63" y="105.07" width="0.9" height="10.68" opacity="0.6"/><rect x="708.73" y="107.74" width="2.7" height="5.34"/><rect x="716.55" y="97.06" width="0.9" height="12.02" opacity="0.6"/><rect x="715.65" y="104.13" width="2.7" height="4.27"/><rect x="733.85" y="76.36" width="0.9" height="22.7" opacity="0.6"/><rect x="732.95" y="77.7" width="2.7" height="21.09"/><rect x="737.31" y="97.46" width="0.9" height="36.1" opacity="0.6"/><rect x="736.41" y="98.28" width="2.7" height="20.92"/><rect x="740.77" y="109.77" width="0.9" height="20.92" opacity="0.6"/><rect x="739.87" y="118.79" width="2.7" height="6.97"/><rect x="747.69" y="106.07" width="0.9" height="15.18" opacity="0.6"/><rect x="746.79" y="114.03" width="2.7" height="6.81"/><rect x="761.53" y="87.71" width="0.9" height="6.28" opacity="0.6"/><rect x="760.63" y="89.98" width="2.7" height="3.47"/><rect x="764.99" y="92.38" width="0.9" height="16.02" opacity="0.6"/><rect x="764.09" y="93.05" width="2.7" height="4.41"/><rect x="778.83" y="76.36" width="0.9" height="11.35" opacity="0.6"/><rect x="777.93" y="81.7" width="2.7" height="1.07"/><rect x="782.29" y="77.7" width="0.9" height="16.02" opacity="0.6"/><rect x="781.39" y="81.7" width="2.7" height="11.35"/></g>
<line x1="408.3" y1="208.7" x2="859.3" y2="18.9" stroke="#f0e58a" stroke-width="1.85" stroke-linecap="round"/>
<line x1="408.3" y1="298.1" x2="859.3" y2="108.1" stroke="#f0e58a" stroke-width="1.85" stroke-linecap="round"/>
<line x1="62.5" y1="352.5" x2="925" y2="209.1" stroke="#f2a1a8" stroke-width="1.75" stroke-linecap="round"/>
<line x1="613.3" y1="210.4" x2="855.7" y2="62.3" stroke="#2cb9cf" stroke-width="1.35" stroke-linecap="round"/>
<g stroke="#ffffff" stroke-width="1.1" fill="none" stroke-linecap="round" stroke-linejoin="round"><path d="M824.3 56 L799.8 66"/><path d="M806.2 58.4 L799.6 66 L808.2 70"/></g>
<text x="431.8" y="28.9" font-size="9.4" font-weight="bold" fill="#ffffff" textLength="48.2" lengthAdjust="spacingAndGlyphs">2008 highs</text>
<text x="440.2" y="38.7" font-size="9.4" font-weight="bold" fill="#ffffff" textLength="25.3" lengthAdjust="spacingAndGlyphs">(July)</text>
<text x="688.1" y="53.1" font-size="9.4" font-weight="bold" fill="#ffffff" textLength="47.9" lengthAdjust="spacingAndGlyphs">2023 highs</text>
<text x="687.5" y="62.9" font-size="9.4" font-weight="bold" fill="#ffffff" textLength="52.9" lengthAdjust="spacingAndGlyphs">(November)</text>
<text x="830" y="50.4" font-size="9.4" font-weight="bold" fill="#ffffff" textLength="47.6" lengthAdjust="spacingAndGlyphs">2024 highs</text>
<text x="835.5" y="60.2" font-size="9.4" font-weight="bold" fill="#ffffff" textLength="33.5" lengthAdjust="spacingAndGlyphs">(March)</text>
<text x="403.9" y="306.6" font-size="9.4" font-weight="bold" fill="#ffffff" textLength="44.7" lengthAdjust="spacingAndGlyphs">2022 lows</text>
<text x="407" y="316.3" font-size="9.4" font-weight="bold" fill="#ffffff" textLength="33.4" lengthAdjust="spacingAndGlyphs">(March)</text>
<text x="65.3" y="363.2" font-size="9.4" font-weight="bold" fill="#ffffff" textLength="44.9" lengthAdjust="spacingAndGlyphs">2020 lows</text>
<text x="73.8" y="372.8" font-size="9.4" font-weight="bold" fill="#ffffff" textLength="24.2" lengthAdjust="spacingAndGlyphs">(May)</text>
<text x="10.5" y="28.2" font-size="7.4" fill="#d1d4dc" textLength="12.3" lengthAdjust="spacingAndGlyphs">SMA</text>
<text x="28" y="28.2" font-size="7.4" fill="#2f66ff" textLength="25" lengthAdjust="spacingAndGlyphs">158.876</text>
<text x="938.2" y="34.5" font-size="7.6" fill="#d1d4dc" textLength="25.1" lengthAdjust="spacingAndGlyphs">172.000</text>
<text x="938.2" y="56.44" font-size="7.6" fill="#d1d4dc" textLength="25.1" lengthAdjust="spacingAndGlyphs">168.000</text>
<text x="938.2" y="100.32" font-size="7.6" fill="#d1d4dc" textLength="25.1" lengthAdjust="spacingAndGlyphs">160.000</text>
<text x="938.2" y="122.26" font-size="7.6" fill="#d1d4dc" textLength="25.1" lengthAdjust="spacingAndGlyphs">156.000</text>
<text x="938.2" y="144.2" font-size="7.6" fill="#d1d4dc" textLength="25.1" lengthAdjust="spacingAndGlyphs">152.000</text>
<text x="938.2" y="166.14" font-size="7.6" fill="#d1d4dc" textLength="25.1" lengthAdjust="spacingAndGlyphs">148.000</text>
<text x="938.2" y="188.08" font-size="7.6" fill="#d1d4dc" textLength="25.1" lengthAdjust="spacingAndGlyphs">144.000</text>
<text x="938.2" y="210.02" font-size="7.6" fill="#d1d4dc" textLength="25.1" lengthAdjust="spacingAndGlyphs">140.000</text>
<text x="938.2" y="231.96" font-size="7.6" fill="#d1d4dc" textLength="25.1" lengthAdjust="spacingAndGlyphs">136.000</text>
<text x="938.2" y="253.9" font-size="7.6" fill="#d1d4dc" textLength="25.1" lengthAdjust="spacingAndGlyphs">132.000</text>
<text x="938.2" y="275.84" font-size="7.6" fill="#d1d4dc" textLength="25.1" lengthAdjust="spacingAndGlyphs">128.000</text>
<text x="938.2" y="297.78" font-size="7.6" fill="#d1d4dc" textLength="25.1" lengthAdjust="spacingAndGlyphs">124.000</text>
<text x="938.2" y="319.72" font-size="7.6" fill="#d1d4dc" textLength="25.1" lengthAdjust="spacingAndGlyphs">120.000</text>
<text x="938.2" y="341.66" font-size="7.6" fill="#d1d4dc" textLength="25.1" lengthAdjust="spacingAndGlyphs">116.000</text>
<text x="938.2" y="363.6" font-size="7.6" fill="#d1d4dc" textLength="25.1" lengthAdjust="spacingAndGlyphs">112.000</text>
<rect x="902.8" y="71.8" width="30.1" height="10.8" fill="#26a69a"/><rect x="933.4" y="71.8" width="33.4" height="10.8" fill="#26a69a"/>
<text x="905.2" y="79.9" font-size="7.4" font-weight="bold" fill="#ffffff" textLength="23.8" lengthAdjust="spacingAndGlyphs">EURJPY</text>
<text x="938.2" y="79.9" font-size="7.4" font-weight="bold" fill="#ffffff" textLength="25.1" lengthAdjust="spacingAndGlyphs">163.678</text>
<circle cx="789.9" cy="370" r="6" fill="none" stroke="#9c3cc0" stroke-width="1.15"/><path d="M792.2 367 L787.5 370.7 L790 370.7 L787.7 373.2 L792.4 369.4 L789.9 369.4 Z" fill="#c040d4"/>
<rect x="5.8" y="397.7" width="927.1" height="60.9" fill="#7e57c2" fill-opacity="0.105"/>
<line x1="5.8" y1="397.7" x2="932.9" y2="397.7" stroke="#787b86" stroke-width="0.8" stroke-dasharray="1.6 2.5" opacity="0.75"/>
<line x1="5.8" y1="427.6" x2="932.9" y2="427.6" stroke="#787b86" stroke-width="0.8" stroke-dasharray="1.6 2.5" opacity="0.4"/>
<line x1="5.8" y1="458.6" x2="932.9" y2="458.6" stroke="#787b86" stroke-width="0.8" stroke-dasharray="1.6 2.5" opacity="0.75"/>
<path d="M6.19 433.79 L10.32 428.63 L13.42 431.73 L17.54 422.44 L20.64 424.5 L24.77 420.38 L27.86 428.63 L30.96 423.47 L34.67 420.99 L38.18 430.08 L43.34 432.76 L49.12 438.95 L52.63 426.57 L55.73 435.86 L59.86 436.89 L63.98 431.73 L67.08 436.89 L69.14 428.63 L73.27 441.02 L76.78 434.82 L81.53 442.05 L84.62 443.08 L86.69 437.92 L91.23 444.11 L93.91 443.08 L97.01 437.92 L104.23 410.06 L108.36 420.38 L111.46 427.19 L114.55 424.5 L117.65 422.44 L121.78 422.44 L126.93 414.18 L131.06 409.02 L135.19 407.99 L138.7 403.86 L142.41 411.5 L146.54 409.02 L149.64 407.99 L152.73 408.61 L155.83 420.38 L159.34 425.54 L163.05 423.06 L166.77 416.25 L170.28 423.06 L172.96 420.38 L177.09 431.73 L180.6 428.01 L184.11 423.47 L187.41 425.54 L190.92 418.93 L194.43 412.74 L197.11 414.18 L195 412.74 L198.1 414.18 L201.19 412.12 L205.32 415.22 L208.42 415.63 L211.92 411.5 L215.23 421.41 L218.74 416.25 L221.83 413.15 L225.96 414.18 L230.09 411.09 L235.25 405.93 L239.38 404.48 L242.47 399.12 L246.6 403.86 L249.7 406.96 L252.79 403.24 L255.89 400.77 L260.02 402.42 L263.11 401.8 L267.24 396.64 L273.43 390.45 L277.15 391.48 L280.66 386.73 L285.82 397.67 L288.29 406.96 L290.98 419.34 L295.1 411.5 L298.2 415.22 L301.3 420.99 L305.42 428.63 L308.52 427.19 L312.65 427.19 L316.78 431.73 L322.55 439.57 L326.06 431.73 L329.57 425.12 L333.29 428.63 L336.38 434.82 L340.1 428.01 L343.19 435.44 L346.7 424.5 L350.21 411.5 L354.96 415.22 L360.12 422.44 L363.21 426.57 L367.34 436.89 L370.44 439.57 L374.15 443.7 L377.66 438.95 L381.79 442.05 L384.47 431.73 L387.36 420.99 L390 419.34 L392.06 418.31 L395.16 424.5 L398.67 433.38 L401.97 435.86 L405.48 416.87 L409.61 423.06 L412.7 426.57 L415.8 425.54 L419.51 447.21 L423.02 433.79 L426.12 420.38 L429.22 412.74 L433.34 407.99 L435.82 409.02 L439.54 404.9 L443.25 400.36 L446.76 409.02 L450.27 406.96 L453.98 420.38 L457.08 419.34 L461.21 416.25 L464.3 406.96 L467.4 402.83 L471.53 401.18 L474.21 397.67 L477.72 406.55 L481.85 417.28 L485.36 414.18 L488.66 419.34 L492.17 427.6 L495.68 424.5 L498.36 425.54 L501.87 423.88 L505.17 425.12 L508.68 416.25 L512.81 405.93 L515.9 405.93 L519.62 423.47 L523.13 414.8 L526.64 415.22 L529.94 407.99 L533.45 404.9 L536.96 402.42 L540.26 405.93 L543.77 416.25 L546.86 414.18 L550.58 413.15 L554.71 425.54 L558.21 419.34 L561.31 416.87 L565.03 429.66 L568.53 431.31 L571.63 430.08 L574.73 437.51 L578.24 430.08 L581.95 427.6 L585.05 425.95 L585 425.54 L588.72 431.31 L592.22 420.38 L596.35 418.31 L599.86 417.28 L603.16 421.41 L606.67 431.73 L609.77 431.31 L613.48 419.76 L615.96 418.93 L620.09 410.67 L623.18 409.02 L627.31 402.42 L633.5 414.8 L640.73 405.93 L644.86 410.06 L647.33 410.06 L651.46 396.64 L655.18 393.54 L658.27 392.51 L661.78 399.74 L665.08 400.36 L668.59 396.64 L672.72 407.37 L675.82 405.93 L679.53 399.74 L683.04 402.42 L686.14 403.24 L689.23 405.31 L692.33 403.86 L696.46 406.55 L700.17 405.93 L703.68 405.31 L707.19 405.93 L710.49 411.5 L714 405.31 L717.09 409.02 L721.22 400.77 L725.35 394.58 L728.45 392.1 L731.13 392.51 L734.02 411.09 L737.73 427.6 L740.83 434.82 L743.93 430.08 L748.05 431.73 L751.77 421.82 L755.28 416.25 L759.41 412.74 L763.53 418.31 L766.63 416.25 L770.76 414.18 L773.85 410.06 L776.95 407.99 L780.05 410.06 L782.11 414.8 L785 414 L789 409" fill="none" stroke="#7550bd" stroke-width="0.85" stroke-linejoin="round"/>
<path d="M6.19 438.95 C8.26 437.58 7.57 437.09 12.38 434.82 C17.2 432.55 15.14 434.2 20.64 432.14 C26.14 430.08 24.08 430.49 28.9 428.63 C33.71 426.77 30.27 426.91 35.09 426.57 C39.9 426.22 37.15 426.91 43.34 427.6 C49.54 428.29 46.78 427.94 53.66 428.63 C60.54 429.32 56.42 428.49 63.98 429.66 C71.55 430.83 68.8 430.08 76.37 432.14 C83.94 434.2 80.5 434.27 86.69 435.86 C92.88 437.44 90.13 436.68 94.94 436.89 C99.76 437.09 97.01 437.51 101.14 436.47 C105.26 435.44 102.51 435.24 107.33 433.79 C112.14 432.35 110.08 433.38 115.58 432.14 C121.09 430.9 118.34 432.62 123.84 430.08 C129.34 427.53 126.59 428.43 132.09 424.5 C137.6 420.58 135.53 421.41 140.35 418.31 C145.17 415.22 142.41 416.52 146.54 415.22 C150.67 413.91 147.92 414.73 152.73 414.39 C157.55 414.05 155.49 414.46 160.99 414.18 C166.49 413.91 164.43 413.36 169.25 413.56 C174.06 413.77 171.31 413.56 175.44 414.8 C179.57 416.04 177.5 415.63 181.63 417.28 C185.76 418.93 183.69 418.72 187.82 419.76 C191.95 420.79 191.62 420.17 194.01 420.38 C196.41 420.58 191.92 420.17 195 420.38 C198.08 420.58 197.75 421.2 203.26 420.99 C208.76 420.79 206.01 420.44 211.51 419.76 C217.02 419.07 214.26 420.1 219.77 418.93 C225.27 417.76 222.52 418.04 228.02 416.25 C233.53 414.46 230.78 415.28 236.28 413.56 C241.78 411.84 239.03 412.46 244.54 411.09 C250.04 409.71 247.29 410.81 252.79 409.44 C258.3 408.06 255.54 408.82 261.05 406.96 C266.55 405.1 263.8 406.07 269.3 403.86 C274.81 401.66 272.74 402.21 277.56 400.36 C282.38 398.5 279.97 398.98 283.75 398.29 C287.54 397.6 284.78 397.6 288.91 398.29 C293.04 398.98 290.98 398.5 296.14 400.36 C301.3 402.21 298.89 401.32 304.39 403.86 C309.9 406.41 307.14 404.55 312.65 407.99 C318.15 411.43 315.4 409.85 320.9 414.18 C326.41 418.52 323.65 416.87 329.16 420.99 C334.66 425.12 331.91 423.68 337.41 426.57 C342.92 429.46 340.85 428.98 345.67 429.66 C350.49 430.35 347.05 429.66 351.86 428.63 C356.68 427.6 354.61 427.26 360.12 426.57 C365.62 425.88 362.87 426.09 368.37 426.57 C373.88 427.05 371.81 426.84 376.63 428.01 C381.45 429.18 378.69 429.87 382.82 430.08 C386.95 430.28 386.62 429.32 389.01 428.63 C391.41 427.94 387.61 428.01 390 428.01 C392.39 428.01 392.06 427.74 396.19 428.63 C400.32 429.53 397.57 430.01 402.38 430.7 C407.2 431.38 404.45 430.9 410.64 430.7 C416.83 430.49 414.08 431.93 420.96 430.08 C427.84 428.22 424.4 428.01 431.28 425.12 C438.16 422.23 435.41 423.88 441.6 421.41 C447.79 418.93 445.04 418.93 449.86 417.69 C454.67 416.45 451.92 418.38 456.05 417.69 C460.18 417 458.11 417.83 462.24 415.63 C466.37 413.43 464.3 413.63 468.43 411.09 C472.56 408.54 470.5 409.02 474.62 407.99 C478.75 406.96 476.69 407.51 480.82 407.99 C484.94 408.47 482.19 407.85 487.01 409.44 C491.82 411.02 489.76 411.16 495.26 412.74 C500.77 414.32 497.33 413.5 503.52 414.18 C509.71 414.87 507.65 413.77 513.84 414.8 C520.03 415.83 517.62 416.11 522.09 417.28 C526.57 418.45 523.13 418.45 527.25 418.31 C531.38 418.17 529.32 418.04 534.48 416.87 C539.64 415.7 537.23 416.18 542.73 414.8 C548.24 413.43 545.49 413.29 550.99 412.74 C556.49 412.19 553.74 412.19 559.25 413.15 C564.75 414.11 562 413.7 567.5 415.63 C573.01 417.55 570.25 416.45 575.76 418.93 C581.26 421.41 580.93 421.55 584.01 423.06 C587.09 424.57 581.92 422.65 585 423.47 C588.08 424.3 587.75 424.99 593.26 425.54 C598.76 426.09 596.01 424.57 601.51 425.12 C607.02 425.67 604.26 427.39 609.77 427.19 C615.27 426.98 612.52 426.77 618.02 424.5 C623.53 422.23 620.09 423.13 626.28 420.38 C632.47 417.62 629.72 418.52 636.6 416.25 C643.48 413.98 640.73 415.97 646.92 413.56 C653.11 411.16 649.67 411.91 655.18 409.02 C660.68 406.13 657.93 406.82 663.43 404.9 C668.94 402.97 666.18 404.07 671.69 403.24 C677.19 402.42 674.44 403.04 679.94 402.42 C685.45 401.8 682.7 401.8 688.2 401.39 C693.7 400.97 690.95 400.84 696.46 401.18 C701.96 401.52 699.21 401.39 704.71 402.42 C710.21 403.45 708.15 403.45 712.97 404.28 C717.78 405.1 715.03 405.03 719.16 404.9 C723.29 404.76 721.22 404.55 725.35 403.86 C729.48 403.18 727.41 401.94 731.54 402.83 C735.67 403.73 732.92 403.79 737.73 406.55 C742.55 409.3 740.49 408.75 745.99 411.09 C751.49 413.43 748.74 412.53 754.25 413.56 C759.75 414.6 757 413.08 762.5 414.18 C768.01 415.28 765.25 415.15 770.76 416.87 C776.26 418.59 774.27 418.38 779.01 419.34 C783.76 420.31 781.67 420.37 785 419.76 C788.33 419.14 787.67 418.25 789 417.5" fill="none" stroke="#c9b838" stroke-width="0.95" stroke-linejoin="round"/>
<text x="10.7" y="390" font-size="7.4" fill="#d1d4dc" textLength="9.3" lengthAdjust="spacingAndGlyphs">RSI</text>
<text x="24.8" y="390" font-size="7.4" fill="#7e57c2" textLength="17.5" lengthAdjust="spacingAndGlyphs">62.43</text>
<text x="47" y="390" font-size="7.4" fill="#e6d23c" font-weight="bold" textLength="17.4" lengthAdjust="spacingAndGlyphs">57.32</text>
<text x="69" y="390" font-size="6.6" fill="#9598a1" font-weight="bold">0</text>
<text x="78.25" y="390" font-size="6.6" fill="#9598a1" font-weight="bold">0</text>
<text x="87.5" y="390" font-size="6.6" fill="#9598a1" font-weight="bold">0</text>
<text x="96.75" y="390" font-size="6.6" fill="#9598a1" font-weight="bold">0</text>
<text x="106" y="390" font-size="6.6" fill="#9598a1" font-weight="bold">0</text>
<text x="115.25" y="390" font-size="6.6" fill="#9598a1" font-weight="bold">0</text>
<text x="937.9" y="385.6" font-size="7.6" fill="#d1d4dc" textLength="17.5" lengthAdjust="spacingAndGlyphs">80.00</text>
<text x="937.9" y="415.3" font-size="7.6" fill="#d1d4dc" textLength="17.5" lengthAdjust="spacingAndGlyphs">60.00</text>
<text x="937.9" y="446" font-size="7.6" fill="#d1d4dc" textLength="17.5" lengthAdjust="spacingAndGlyphs">40.00</text>
<text x="23.75" y="477.1" font-size="7.6" fill="#d9dbe2" textLength="16.5" lengthAdjust="spacingAndGlyphs">2020</text>
<text x="83.8" y="477.1" font-size="7.6" fill="#d9dbe2" textLength="13.2" lengthAdjust="spacingAndGlyphs">May</text>
<text x="146.6" y="477.1" font-size="7.6" fill="#d9dbe2" textLength="12.2" lengthAdjust="spacingAndGlyphs">Sep</text>
<text x="203.25" y="477.1" font-size="7.6" fill="#d9dbe2" textLength="16.5" lengthAdjust="spacingAndGlyphs">2021</text>
<text x="263.7" y="477.1" font-size="7.6" fill="#d9dbe2" textLength="13.2" lengthAdjust="spacingAndGlyphs">May</text>
<text x="326.8" y="477.1" font-size="7.6" fill="#d9dbe2" textLength="12.2" lengthAdjust="spacingAndGlyphs">Sep</text>
<text x="384.25" y="477.1" font-size="7.6" fill="#d9dbe2" textLength="16.5" lengthAdjust="spacingAndGlyphs">2022</text>
<text x="443.9" y="477.1" font-size="7.6" fill="#d9dbe2" textLength="13.2" lengthAdjust="spacingAndGlyphs">May</text>
<text x="506.7" y="477.1" font-size="7.6" fill="#d9dbe2" textLength="12.2" lengthAdjust="spacingAndGlyphs">Sep</text>
<text x="563.35" y="477.1" font-size="7.6" fill="#d9dbe2" textLength="16.5" lengthAdjust="spacingAndGlyphs">2023</text>
<text x="623.8" y="477.1" font-size="7.6" fill="#d9dbe2" textLength="13.2" lengthAdjust="spacingAndGlyphs">May</text>
<text x="672.3" y="477.1" font-size="7.6" fill="#d9dbe2" textLength="13.2" lengthAdjust="spacingAndGlyphs">Aug</text>
<text x="743.55" y="477.1" font-size="7.6" fill="#d9dbe2" textLength="16.5" lengthAdjust="spacingAndGlyphs">2024</text>
<text x="805.4" y="477.1" font-size="7.6" fill="#d9dbe2" textLength="13.2" lengthAdjust="spacingAndGlyphs">May</text>
<text x="865.9" y="477.1" font-size="7.6" fill="#d9dbe2" textLength="12.2" lengthAdjust="spacingAndGlyphs">Sep</text>
<g fill="#e4e6eb"><path d="M6.5 490 H11.4 V496 H8.9 V492.2 H6.5 Z"/><circle cx="13.1" cy="491.2" r="1.2"/><path d="M15.4 490 H18 L15.4 496 H12.8 Z"/></g>
<text x="20.5" y="497.2" font-size="9" fill="#e4e6eb" textLength="41.7" lengthAdjust="spacingAndGlyphs">TradingView</text>
<g fill="#0c0e16" opacity="0.6" transform="translate(1.3 1.2)"><polygon points="740.8,411.8 751.2,411.8 749.7,426.2 741.9,426.2 740.5,424.7"/><polygon points="736,429.1 746.7,429.1 746.4,445.1 736.8,464.3 726.8,464.3 737.1,445.1 735.7,442.1"/><polygon points="763,411.2 770.4,411.2 769.6,413.6 792.2,413.6 790.3,420.6 763.4,420.6 761.5,422.5 752.6,422.5 753.9,416.6 758.2,416.2"/><polygon points="791.4,448 830.9,448 829,455 789.5,455"/><polygon points="859.7,411.75 885.6,411.75 875.6,452.5 867.1,452.5 876.9,421.4 864.5,421.4 856.8,450.6 849.4,450.6"/><polygon points="866.2,422.7 874.4,422.7 866.4,452.5 854.9,464.3 845.7,464.3 857.9,452.5"/><polygon points="860.5,455 866.4,452.5 872.3,464.3 863,464.3"/><polygon points="887,415.8 911.8,415.8 909.5,425.4 884.8,425.4"/><polygon points="903.5,411.75 913,411.75 901.2,462 899,464.3 885.8,464.3 887.3,458.5 891.7,458.5"/><polygon points="890,425.4 900.3,425.4 882.6,464.3 873.8,464.3"/><polygon points="927.7,411.5 938.4,411.5 924.5,433.5 915.9,433.5 916.3,430"/><polygon points="921,427 936.8,427 935.2,433.5 918,433.5"/><polygon points="930,422.8 940.6,422.8 923.5,451.4 910.3,451.4 911.4,448"/><polygon points="914,445.1 932.5,445.1 930.9,451.4 910.3,451.4"/><polygon points="909.2,457.6 929.5,457.6 928,464.3 907.4,464.3"/><polygon points="943.9,411.9 972.9,411.9 971,418.7 942.7,418.7"/><polygon points="958.2,418.7 971,418.7 950.6,437.6 937.4,437.6"/><polygon points="954.8,434 961.2,428.9 968.4,433 966.9,437.6 956.7,437.6"/><polygon points="936.2,441 965.7,441 963.5,447.7 934.3,447.7"/><polygon points="944.3,447.7 954.7,447.7 951,457.6 940.6,457.6"/><polygon points="931,457.6 960.9,457.6 959.1,464.3 929.2,464.3"/><path fill-rule="evenodd" d="M754.9 424.3 L788.8 424.3 L784.3 439.5 L786.5 439.5 L784.8 445.1 L782.6 445.1 L776.8 464.3 L743.4 464.3 L749 445.1 L744 445.1 L744 439.5 L750.6 439.5ZM762.2 430 L779 430 L776.2 439.5 L759.4 439.5ZM756.3 448 L775.3 448 L772.7 456.9 L753.6 456.9Z"/><path fill-rule="evenodd" d="M801.7 411.75 L850.8 411.75 L839.2 462.5 L836.5 465 L814.3 465 L816.3 458.7 L830.4 458.7 L835 441 L795 441ZM808 419.1 L840.1 419.1 L836.4 432.8 L805 432.8Z"/><polygon points="765.5,431.5 767.5,431.5 773.2,439.6 764,439.6"/><polygon points="759.7,447.9 765.6,447.9 770.4,457 760.4,457"/></g>
<g fill="#a3a5ad" opacity="0.93" transform="translate(0 0)"><polygon points="740.8,411.8 751.2,411.8 749.7,426.2 741.9,426.2 740.5,424.7"/><polygon points="736,429.1 746.7,429.1 746.4,445.1 736.8,464.3 726.8,464.3 737.1,445.1 735.7,442.1"/><polygon points="763,411.2 770.4,411.2 769.6,413.6 792.2,413.6 790.3,420.6 763.4,420.6 761.5,422.5 752.6,422.5 753.9,416.6 758.2,416.2"/><polygon points="791.4,448 830.9,448 829,455 789.5,455"/><polygon points="859.7,411.75 885.6,411.75 875.6,452.5 867.1,452.5 876.9,421.4 864.5,421.4 856.8,450.6 849.4,450.6"/><polygon points="866.2,422.7 874.4,422.7 866.4,452.5 854.9,464.3 845.7,464.3 857.9,452.5"/><polygon points="860.5,455 866.4,452.5 872.3,464.3 863,464.3"/><polygon points="887,415.8 911.8,415.8 909.5,425.4 884.8,425.4"/><polygon points="903.5,411.75 913,411.75 901.2,462 899,464.3 885.8,464.3 887.3,458.5 891.7,458.5"/><polygon points="890,425.4 900.3,425.4 882.6,464.3 873.8,464.3"/><polygon points="927.7,411.5 938.4,411.5 924.5,433.5 915.9,433.5 916.3,430"/><polygon points="921,427 936.8,427 935.2,433.5 918,433.5"/><polygon points="930,422.8 940.6,422.8 923.5,451.4 910.3,451.4 911.4,448"/><polygon points="914,445.1 932.5,445.1 930.9,451.4 910.3,451.4"/><polygon points="909.2,457.6 929.5,457.6 928,464.3 907.4,464.3"/><polygon points="943.9,411.9 972.9,411.9 971,418.7 942.7,418.7"/><polygon points="958.2,418.7 971,418.7 950.6,437.6 937.4,437.6"/><polygon points="954.8,434 961.2,428.9 968.4,433 966.9,437.6 956.7,437.6"/><polygon points="936.2,441 965.7,441 963.5,447.7 934.3,447.7"/><polygon points="944.3,447.7 954.7,447.7 951,457.6 940.6,457.6"/><polygon points="931,457.6 960.9,457.6 959.1,464.3 929.2,464.3"/><path fill-rule="evenodd" d="M754.9 424.3 L788.8 424.3 L784.3 439.5 L786.5 439.5 L784.8 445.1 L782.6 445.1 L776.8 464.3 L743.4 464.3 L749 445.1 L744 445.1 L744 439.5 L750.6 439.5ZM762.2 430 L779 430 L776.2 439.5 L759.4 439.5ZM756.3 448 L775.3 448 L772.7 456.9 L753.6 456.9Z"/><path fill-rule="evenodd" d="M801.7 411.75 L850.8 411.75 L839.2 462.5 L836.5 465 L814.3 465 L816.3 458.7 L830.4 458.7 L835 441 L795 441ZM808 419.1 L840.1 419.1 L836.4 432.8 L805 432.8Z"/><polygon points="765.5,431.5 767.5,431.5 773.2,439.6 764,439.6"/><polygon points="759.7,447.9 765.6,447.9 770.4,457 760.4,457"/></g>
<clipPath id="wc"><rect x="724" y="404" width="209" height="66"/></clipPath><g clip-path="url(#wc)" opacity="0.5"><line x1="724" y1="427.6" x2="932.9" y2="427.6" stroke="#c8c9d2" stroke-width="0.8" stroke-dasharray="1.6 2.5" opacity="0.6"/><line x1="724" y1="458.6" x2="932.9" y2="458.6" stroke="#e4e5ea" stroke-width="0.8" stroke-dasharray="1.6 2.5"/><path d="M737.73 427.6 L740.83 434.82 L743.93 430.08 L748.05 431.73 L751.77 421.82 L755.28 416.25 L759.41 412.74 L763.53 418.31 L766.63 416.25 L770.76 414.18 L773.85 410.06 L776.95 407.99 L780.05 410.06 L782.11 414.8 L785 414 L789 409" fill="none" stroke="#d9d0f0" stroke-width="0.85"/><path d="M731.54 402.83 L737.73 406.55 L745.99 411.09 L754.25 413.56 L762.5 414.18 L770.76 416.87 L779.01 419.34 L785 419.76 L789 417.5" fill="none" stroke="#efe27a" stroke-width="0.95"/></g>
<text x="937.9" y="415.3" font-size="7.6" fill="#e8e9ee" opacity="0.85" textLength="17.5" lengthAdjust="spacingAndGlyphs">60.00</text><text x="937.9" y="446" font-size="7.6" fill="#e8e9ee" opacity="0.85" textLength="17.5" lengthAdjust="spacingAndGlyphs">40.00</text>
<g fill="#0c0e16" stroke="#0c0e16" stroke-width="1.5" stroke-linejoin="miter" opacity="0.55" font-size="31" font-weight="bold" font-style="italic" transform="translate(1.3 1.2)"><text x="741.2" y="498" textLength="17.6" lengthAdjust="spacingAndGlyphs">z</text><text x="767.8" y="498" textLength="16.9" lengthAdjust="spacingAndGlyphs">z</text><text x="793.6" y="498" textLength="14.4" lengthAdjust="spacingAndGlyphs">r</text><text x="817" y="498" textLength="12" lengthAdjust="spacingAndGlyphs">t</text><text x="840.4" y="498" textLength="16.8" lengthAdjust="spacingAndGlyphs">0</text><text x="872.4" y="498" textLength="14.4" lengthAdjust="spacingAndGlyphs">1</text><text x="919.2" y="498" textLength="14.4" lengthAdjust="spacingAndGlyphs">c</text><text x="943.8" y="498" textLength="18.1" lengthAdjust="spacingAndGlyphs">n</text><polygon stroke="none" points="900.6,493 906,493 904.8,498 899.4,498"/></g>
<g fill="#2347a6" stroke="#2347a6" stroke-width="1.5" stroke-linejoin="miter" opacity="1" font-size="31" font-weight="bold" font-style="italic" transform="translate(0 0)"><text x="741.2" y="498" textLength="17.6" lengthAdjust="spacingAndGlyphs">z</text><text x="767.8" y="498" textLength="16.9" lengthAdjust="spacingAndGlyphs">z</text><text x="793.6" y="498" textLength="14.4" lengthAdjust="spacingAndGlyphs">r</text><text x="817" y="498" textLength="12" lengthAdjust="spacingAndGlyphs">t</text><text x="840.4" y="498" textLength="16.8" lengthAdjust="spacingAndGlyphs">0</text><text x="872.4" y="498" textLength="14.4" lengthAdjust="spacingAndGlyphs">1</text><text x="919.2" y="498" textLength="14.4" lengthAdjust="spacingAndGlyphs">c</text><text x="943.8" y="498" textLength="18.1" lengthAdjust="spacingAndGlyphs">n</text><polygon stroke="none" points="900.6,493 906,493 904.8,498 899.4,498"/></g>
</svg></body></html>
